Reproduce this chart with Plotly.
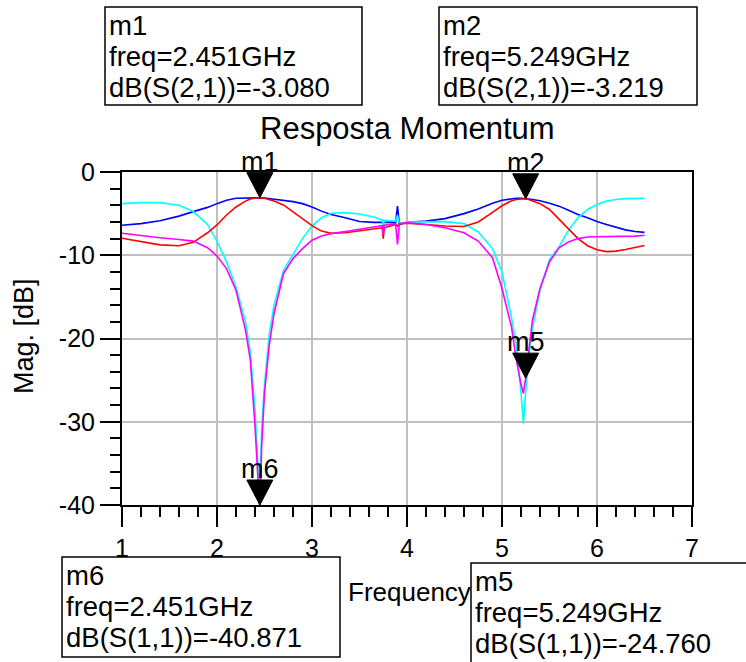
import plotly.graph_objects as go

# Frequency sweep (GHz)
freq = [1.0, 1.2, 1.4, 1.6, 1.75, 1.9, 2.0, 2.1, 2.2, 2.3, 2.35, 2.4, 2.43, 2.451,
        2.47, 2.5, 2.55, 2.6, 2.7, 2.8, 2.9, 3.0, 3.1, 3.2, 3.35, 3.5, 3.65, 3.74,
        3.75, 3.76, 3.88, 3.9, 3.92, 4.0, 4.2, 4.4, 4.6, 4.75, 4.9, 5.0, 5.1, 5.15,
        5.2, 5.225, 5.249, 5.28, 5.32, 5.4, 5.5, 5.6, 5.7, 5.8, 5.9, 6.0, 6.1, 6.2,
        6.3, 6.4, 6.5]

# Magnitudes in dB
s21_blue = [-6.4, -6.2, -5.85, -5.3, -4.76, -4.25, -3.8, -3.4, -3.15, -3.1, -3.08, -3.08, -3.08, -3.08,
            -3.1, -3.12, -3.18, -3.25, -3.4, -3.56, -3.8, -4.2, -4.7, -5.1, -5.5, -5.95, -6.05, -6.08,
            -6.08, -6.08, -6.05, -4.1, -6.3, -6.05, -5.9, -5.6, -5.0, -4.45, -3.75, -3.4, -3.2, -3.15,
            -3.15, -3.16, -3.2, -3.25, -3.3, -3.45, -3.75, -4.1, -4.6, -5.1, -5.5, -5.95, -6.3, -6.65,
            -6.95, -7.15, -7.25]

s21_red = [-7.96, -8.35, -8.75, -8.85, -8.45, -7.3, -6.36, -5.16, -4.2, -3.5, -3.25, -3.12, -3.08, -3.08,
           -3.1, -3.15, -3.3, -3.48, -3.96, -4.8, -5.7, -6.45, -7.1, -7.35, -7.3, -7.08, -6.85, -6.7,
           -8.0, -6.7, -6.3, -6.5, -6.2, -6.15, -6.3, -6.48, -6.55, -6.0, -4.85, -4.05, -3.45, -3.3,
           -3.25, -3.22, -3.219, -3.3, -3.45, -3.8, -4.5, -5.7, -6.8, -8.0, -8.85, -9.35, -9.56, -9.5,
           -9.3, -9.1, -8.84]

s11_cyan = [-3.8, -3.68, -3.68, -4.0, -4.75, -6.3, -8.3, -10.8, -13.8, -18.0, -21.5, -28.5, -35.0, -38.5,
            -31.0, -25.5, -19.5, -16.0, -11.8, -9.9, -8.0, -6.5, -5.5, -4.95, -4.88, -5.04, -5.4, -5.76,
            -7.0, -5.8, -5.9, -5.2, -6.2, -6.0, -5.95, -5.96, -6.2, -7.2, -9.2, -12.0, -17.5, -20.8,
            -26.5, -30.2, -26.5, -22.5, -18.8, -14.2, -10.5, -9.0, -7.0, -5.5, -4.5, -3.9, -3.5, -3.3,
            -3.2, -3.16, -3.16]

s11_magenta = [-7.36, -7.65, -7.9, -8.1, -8.3, -9.1, -10.1, -11.6, -14.2, -19.0, -22.5, -30.5, -38.0, -40.871,
               -33.0, -26.5, -20.8, -17.0, -12.2, -10.4, -9.2, -8.2, -7.7, -7.4, -7.15, -6.9, -6.6, -6.45,
               -7.5, -6.4, -6.2, -8.7, -6.2, -6.1, -6.3, -6.7, -7.3, -8.3, -10.3, -14.0, -18.6, -22.5,
               -25.5, -26.6, -24.76, -21.5, -17.8, -14.0, -10.8, -9.1, -8.4, -8.0, -7.8, -7.77, -7.76, -7.76,
               -7.76, -7.7, -7.6]

# Markers
marker_names = ["m1", "m2", "m5", "m6"]
marker_freq = [2.451, 5.249, 5.249, 2.451]
marker_param = ["S(2,1)", "S(2,1)", "S(1,1)", "S(1,1)"]
marker_db = [-3.080, -3.219, -24.760, -40.871]

# Axes
x_ticks = [1, 2, 3, 4, 5, 6, 7]
y_ticks = [-40, -30, -20, -10, 0]
x_range = [1, 7]
y_range = [-40, 0]

# Plot area in pixels
W, H = 746, 662
L, R, T, B = 122, 692, 172, 505


def px(x):
    return (x - L) / (R - L)


def py(y):
    return (B - y) / (B - T)


FONT = "Liberation Sans, Arial, sans-serif"

fig = go.Figure()
series = [
    (s21_blue, "#0000ff"),
    (s11_cyan, "#00ffff"),
    (s21_red, "#ff0000"),
    (s11_magenta, "#ff00ff"),
]
for vals, col in series:
    fig.add_trace(go.Scatter(x=freq, y=vals, mode="lines",
                             line=dict(color=col, width=1.6),
                             hoverinfo="skip", showlegend=False))

shapes = []
annotations = []

# Marker triangles (tip at the marker value, clamped to the visible range)
for name, f, v in zip(marker_names, marker_freq, marker_db):
    yv = max(v, y_range[0])
    shapes.append(dict(type="path", xref="x", yref="y",
                       xsizemode="pixel", ysizemode="pixel",
                       xanchor=f, yanchor=yv,
                       path="M-13,25 L13,25 L0,0 Z",
                       fillcolor="black", line=dict(color="black", width=1)))
    annotations.append(dict(x=f, y=yv, xref="x", yref="y", text=name,
                            showarrow=False, yshift=36, xanchor="center", yanchor="middle",
                            font=dict(family=FONT, size=27, color="black")))

# Marker readout boxes: (left, top, right, bottom) in pixels
box_px = {
    "m1": (105, 7, 362, 105),
    "m2": (439, 7, 697, 105),
    "m6": (62, 557, 340, 657),
    "m5": (471, 563, 780, 700),
}
for name, f, p, v in zip(marker_names, marker_freq, marker_param, marker_db):
    x0, y0, x1, y1 = box_px[name]
    shapes.append(dict(type="rect", xref="paper", yref="paper",
                       x0=px(x0), x1=px(x1), y0=py(y1), y1=py(y0),
                       line=dict(color="black", width=1.5), fillcolor="rgba(0,0,0,0)"))
    lines = [name, f"freq={f:.3f}GHz", f"dB({p})={v:.3f}"]
    for i, txt in enumerate(lines):
        annotations.append(dict(x=px(x0 + 3), y=py(y0 + 18 + 31 * i), xref="paper", yref="paper",
                                text=txt, showarrow=False, xanchor="left", yanchor="middle",
                                borderpad=0,
                                font=dict(family=FONT, size=27.5, color="black")))

# Title and axis labels
annotations.append(dict(x=0.5, y=py(128), xref="paper", yref="paper", text="Resposta Momentum",
                        showarrow=False, xanchor="center", yanchor="middle",
                        font=dict(family=FONT, size=31, color="black")))
annotations.append(dict(x=px(409), y=py(592), xref="paper", yref="paper", text="Frequency",
                        showarrow=False, xanchor="center", yanchor="middle",
                        font=dict(family=FONT, size=26, color="black")))
annotations.append(dict(x=px(24), y=py(336), xref="paper", yref="paper", text="Mag. [dB]",
                        showarrow=False, xanchor="center", yanchor="middle", textangle=-90,
                        font=dict(family=FONT, size=27, color="black")))

axis_common = dict(
    showline=True, linecolor="black", linewidth=2, mirror=True,
    showgrid=True, gridcolor="#c0c0c0", gridwidth=2,
    zeroline=False, ticks="outside", ticklen=20, tickwidth=2, tickcolor="black",
    tickfont=dict(family=FONT, size=25, color="black"),
)

fig.update_layout(
    width=W, height=H,
    margin=dict(l=L, r=W - R, t=T, b=H - B, pad=0),
    paper_bgcolor="white", plot_bgcolor="white",
    showlegend=False,
    xaxis=dict(range=x_range, tickmode="array", tickvals=x_ticks,
               ticktext=[str(t) for t in x_ticks],
               minor=dict(dtick=0.2, ticks="outside", ticklen=10, tickwidth=2,
                          tickcolor="black", showgrid=False),
               **axis_common),
    yaxis=dict(range=y_range, tickmode="array", tickvals=y_ticks,
               ticktext=[str(t) for t in y_ticks],
               minor=dict(dtick=2, ticks="outside", ticklen=10, tickwidth=2,
                          tickcolor="black", showgrid=False),
               **axis_common),
    shapes=shapes,
    annotations=annotations,
)

fig.write_html("out.html")
